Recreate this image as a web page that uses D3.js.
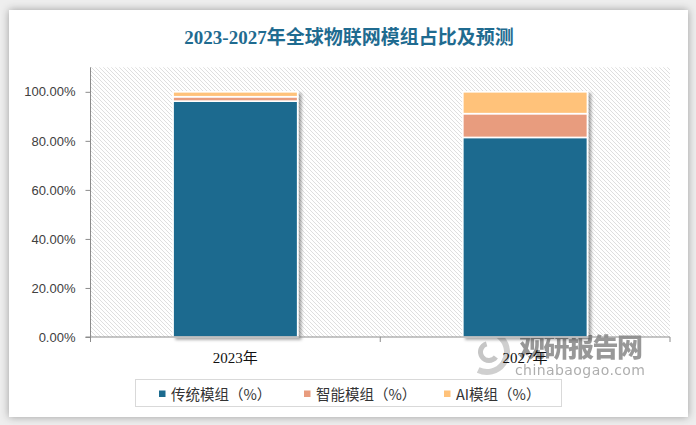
<!DOCTYPE html>
<html><head><meta charset="utf-8">
<script src="https://cdn.jsdelivr.net/npm/d3@7"></script>
<style>
html,body{margin:0;padding:0;background:#ececec;}
svg{display:block;}
</style></head>
<body>
<svg id="chart" width="696" height="425"></svg>
<script>
const categories = ["2023年", "2027年"];
const seriesNames = ["传统模组（%）", "智能模组（%）", "AI模组（%）"];
const traditional = [0.962, 0.814];
const smart = [0.018, 0.097];
const ai = [0.020, 0.089];
const yTicks = [0, 0.2, 0.4, 0.6, 0.8, 1.0];
const colors = ["#1C6B8F", "#E89C7E", "#FFC27A"];

const svg = d3.select("#chart");
const defs = svg.append("defs");

const cf = defs.append("filter").attr("id","card").attr("x","-5%").attr("y","-5%").attr("width","110%").attr("height","110%");
cf.append("feDropShadow").attr("dx",0).attr("dy",0).attr("stdDeviation",4).attr("flood-color","#000").attr("flood-opacity",0.35);
const bf = defs.append("filter").attr("id","barsh").attr("x","-10%").attr("y","-10%").attr("width","130%").attr("height","130%");
bf.append("feDropShadow").attr("dx",3).attr("dy",2).attr("stdDeviation",1.8).attr("flood-color","#000").attr("flood-opacity",0.35);

const pat = defs.append("pattern").attr("id","hatch").attr("patternUnits","userSpaceOnUse")
  .attr("width",4).attr("height",4);
pat.append("rect").attr("width",4).attr("height",4).attr("fill","#fff");
pat.append("path").attr("d","M-1,-1 L5,5 M-1,3 L1,5 M3,-1 L5,1")
  .attr("stroke","#d4d4d4").attr("stroke-width",0.75);

svg.append("rect").attr("x",0).attr("y",0).attr("width",696).attr("height",425).attr("fill","#eeeeee");
svg.append("rect").attr("x",9).attr("y",10).attr("width",679).attr("height",407)
  .attr("fill","#fff").attr("filter","url(#card)");

svg.append("text").attr("x",349).attr("y",44).attr("text-anchor","middle")
  .attr("font-family","'Liberation Serif','Noto Sans CJK SC',serif").attr("font-weight","bold")
  .attr("font-size",19).attr("fill","#1F6B90").text("2023-2027年全球物联网模组占比及预测");

const plot = {left:90.5, right:670, top:67.3, bottom:337};
const x = d3.scaleBand().domain(categories).range([plot.left, plot.right]).padding(0);
const y = d3.scaleLinear().domain([0, 1.1]).range([plot.bottom, plot.top]);

svg.append("rect").attr("x",plot.left).attr("y",plot.top)
  .attr("width",plot.right-plot.left).attr("height",plot.bottom-plot.top).attr("fill","url(#hatch)");

// watermark
const wm = svg.append("g").attr("opacity",0.8);
wm.append("path").attr("d", d3.arc()({innerRadius:17,outerRadius:23,startAngle:-0.6,endAngle:3.6}))
  .attr("transform","translate(487,352)").attr("fill","#c4c4c4");
wm.append("path").attr("d", d3.arc()({innerRadius:6,outerRadius:11,startAngle:2.2,endAngle:6.0}))
  .attr("transform","translate(489,352)").attr("fill","#b8b8b8");
wm.append("text").attr("x",519).attr("y",357).attr("font-family","'Noto Sans CJK SC',sans-serif")
  .attr("font-weight","900").attr("font-size",26).attr("fill","#7f7f7f").attr("textLength",124).text("观研报告网");
wm.append("text").attr("x",515).attr("y",375).attr("font-family","'DejaVu Sans',sans-serif")
  .attr("font-size",14).attr("fill","#9a9a9a").attr("textLength",130).text("chinabaogao.com");

const rows = categories.map((c,i)=>({cat:c, s0:traditional[i], s1:smart[i], s2:ai[i]}));
const stack = d3.stack().keys(["s0","s1","s2"])(rows);
const barW = x.bandwidth()*0.43;

const bars = svg.append("g").attr("filter","url(#barsh)");
stack.forEach((layer,k)=>{
  bars.selectAll(null).data(layer).enter().append("rect")
    .attr("x", d=>x(d.data.cat)+x.bandwidth()/2-barW/2)
    .attr("y", d=>y(d[1]))
    .attr("width", barW)
    .attr("height", d=>y(d[0])-y(d[1]))
    .attr("fill", colors[k])
    .attr("stroke","#fff").attr("stroke-width",1.6);
});

const axisColor = "#8c8c8c";
const yAxis = d3.axisLeft(y).tickValues(yTicks).tickSize(5).tickPadding(10)
  .tickFormat(d=>(d*100).toFixed(2)+"%");
const gy = svg.append("g").attr("transform",`translate(${plot.left},0)`).call(yAxis);
gy.select(".domain").remove();
gy.append("line").attr("x1",0).attr("x2",0).attr("y1",plot.top).attr("y2",plot.bottom).attr("stroke",axisColor);
gy.selectAll(".tick line").attr("stroke",axisColor);
gy.selectAll(".tick text").attr("font-family","'Liberation Sans','Noto Sans',sans-serif")
  .attr("font-size",13).attr("fill","#404040");

const xAxisG = svg.append("g");
xAxisG.append("line").attr("x1",plot.left-5).attr("x2",plot.right).attr("y1",plot.bottom).attr("y2",plot.bottom).attr("stroke",axisColor);
const bounds = [plot.left, ...categories.map(c=>x(c)+x.bandwidth())];
xAxisG.selectAll(null).data(bounds).enter().append("line")
  .attr("x1",d=>d).attr("x2",d=>d).attr("y1",plot.bottom).attr("y2",plot.bottom+5).attr("stroke",axisColor);
xAxisG.selectAll(null).data(categories).enter().append("text")
  .attr("x",d=>x(d)+x.bandwidth()/2).attr("y",363).attr("text-anchor","middle")
  .attr("font-family","'Liberation Serif','Noto Sans CJK SC',serif").attr("font-size",15).attr("fill","#111")
  .text(d=>d);

const lg = svg.append("g");
lg.append("rect").attr("x",135.5).attr("y",379.5).attr("width",426).attr("height",27)
  .attr("fill","#fff").attr("stroke","#d9d9d9");
const legX = [159, 304, 444];
seriesNames.forEach((n,i)=>{
  lg.append("rect").attr("x",legX[i]).attr("y",390.5).attr("width",6.5).attr("height",6.5).attr("fill",colors[i]);
  lg.append("text").attr("x",legX[i]+12).attr("y",399.5)
    .attr("font-family","'Noto Sans CJK SC','Liberation Sans',sans-serif").attr("font-size",14.5).attr("fill","#333")
    .text(n);
});
</script>
</body></html>
